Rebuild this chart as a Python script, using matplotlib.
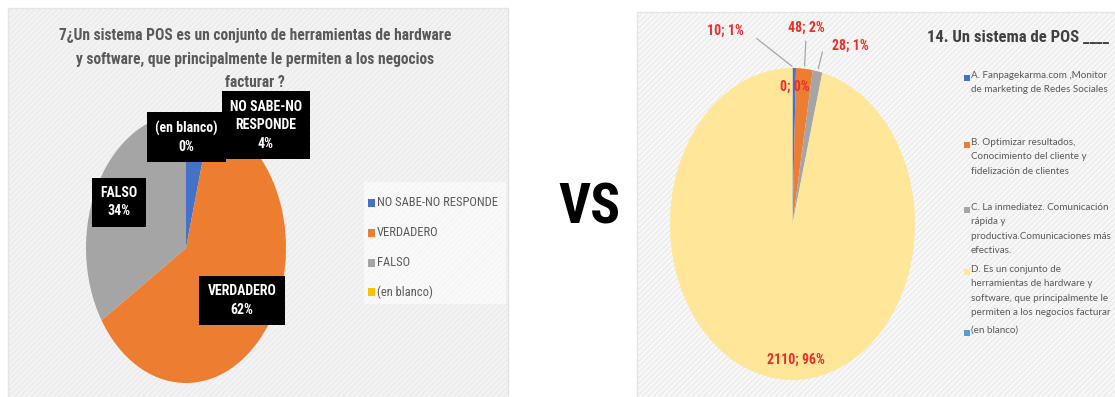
import numpy as np
import matplotlib.pyplot as plt
from matplotlib import font_manager
from matplotlib.patches import Rectangle

W, H = 1115, 397


def pick_font(*names):
    have = {f.name for f in font_manager.fontManager.ttflist}
    for n in names:
        if n in have:
            return n
    return 'DejaVu Sans'


NARROW = pick_font('Liberation Sans Narrow', 'Roboto Condensed', 'Liberation Sans')
BODY = pick_font('Lato', 'Open Sans', 'DejaVu Sans')

# --- pregunta 7 ---
left_title = ('7¿Un sistema POS es un conjunto de herramientas de hardware\n'
              'y software, que principalmente le permiten a los negocios\n'
              'facturar ?')
left_labels = ['NO SABE-NO RESPONDE', 'VERDADERO', 'FALSO', '(en blanco)']
left_pct = [4, 62, 34, 0]
left_box_text = ['NO SABE-NO\nRESPONDE', 'VERDADERO', 'FALSO', '(en blanco)']
left_colors = ['#4472C4', '#ED7D31', '#A5A5A5', '#FFC000']

# --- pregunta 14 ---
right_title = '14. Un sistema de POS ____'
right_labels = ['A. Fanpagekarma.com ,Monitor\nde marketing de Redes Sociales',
                'B. Optimizar resultados,\nConocimiento del cliente y\nfidelización de clientes',
                'C. La inmediatez. Comunicación\nrápida y\nproductiva.Comunicaciones más\nefectivas.',
                'D. Es un conjunto de\nherramientas de hardware y\nsoftware, que principalmente le\npermiten a los negocios facturar',
                '(en blanco)']
right_counts = [10, 48, 28, 2110, 0]
right_pct = [1, 2, 1, 96, 0]
right_colors = ['#4472C4', '#ED7D31', '#A5A5A5', '#FFE699', '#5B9BD5']


def px_axes(fig, x0, y0, w, h):
    return fig.add_axes([x0 / W, 1 - (y0 + h) / H, w / W, h / H])


fig = plt.figure(figsize=(W / 100, H / 100), dpi=100)
fig.patch.set_facecolor('white')

bg = fig.add_axes([0, 0, 1, 1])
bg.set_xlim(0, W)
bg.set_ylim(H, 0)
bg.axis('off')

# chart areas with the fine diagonal texture
for x0, y0, x1, y1, fc in [(8, 8, 508, 400, '#f3f3f3'), (637, 12, 1120, 400, '#f8f8f8')]:
    bg.add_patch(Rectangle((x0, y0), x1 - x0, y1 - y0, facecolor=fc,
                           edgecolor='#e2e2e2', lw=1.0))
    bg.add_patch(Rectangle((x0, y0), x1 - x0, y1 - y0, facecolor='none',
                           edgecolor='#ebebeb', hatch='//////', lw=0))

bg.text(255, 59, left_title, ha='center', va='center', fontsize=11.2,
        fontweight='bold', color='#595959', family=NARROW, linespacing=1.7)

bg.text(589, 209, 'VS', ha='center', va='center', fontsize=40,
        fontweight='bold', color='black', family=NARROW)

# left legend
bg.add_patch(Rectangle((364, 182), 142, 122, facecolor='white', alpha=0.55, lw=0))
for y, lab, c in zip([203, 233, 263, 292], left_labels, left_colors):
    bg.add_patch(Rectangle((368, y - 4), 7, 8, facecolor=c, lw=0))
    bg.text(377, y, lab, ha='left', va='center', fontsize=9,
            color='#595959', family=NARROW)

# right title and legend
bg.text(927, 37, right_title, ha='left', va='center', fontsize=12,
        fontweight='bold', color='#404040', family=NARROW)
right_rows = [78, 145, 210, 272, 333]
for y, lab, c in zip(right_rows, right_labels, right_colors):
    bg.add_patch(Rectangle((964, y - 3), 6, 6, facecolor=c, lw=0))
    bg.text(971, y - 7, lab, ha='left', va='top', fontsize=7.1,
            color='#595959', family=BODY, linespacing=1.78)

# left pie, stretched vertically
ax1 = px_axes(fig, 86, 113, 200, 270)
ax1.pie(left_pct, colors=left_colors, startangle=90, counterclock=False,
        wedgeprops=dict(linewidth=0))
ax1.set_aspect('auto')
ax1.set_xlim(-1, 1)
ax1.set_ylim(-1, 1)
ax1.axis('off')

left_pos = [(0.80, 0.91), (0.56, -0.39), (-0.67, 0.34), (0.005, 0.82)]
for (x, y), txt, p in zip(left_pos, left_box_text, left_pct):
    ax1.text(x, y, f'{txt}\n{p}%', ha='center', va='center', fontsize=10,
             fontweight='bold', color='white', family=NARROW, linespacing=1.4,
             clip_on=False,
             bbox=dict(boxstyle='square,pad=0.6', facecolor='black', edgecolor='none'))

# right pie
ax2 = px_axes(fig, 670, 68, 245, 312)
wedges, _ = ax2.pie(right_counts, colors=right_colors, startangle=90,
                    counterclock=False, wedgeprops=dict(linewidth=0))
ax2.set_aspect('auto')
ax2.set_xlim(-1, 1)
ax2.set_ylim(-1, 1)
ax2.axis('off')

right_pos = [(-0.55, 1.24), (0.11, 1.26), (0.47, 1.14), (0.03, -0.87), (0.02, 0.88)]
for i, (w, (x, y)) in enumerate(zip(wedges, right_pos)):
    txt = f'{right_counts[i]}; {right_pct[i]}%'
    ax2.text(x, y, txt, ha='center', va='center', fontsize=10,
             fontweight='bold', color='#E8302A', family=NARROW, clip_on=False)
    if i < 3:
        ang = np.deg2rad((w.theta1 + w.theta2) / 2)
        tip = (np.cos(ang), np.sin(ang))
        start = {0: (x + 0.24, y - 0.04), 1: (x, y - 0.07), 2: (x - 0.22, y - 0.02)}[i]
        ax2.annotate('', xy=tip, xytext=start,
                     arrowprops=dict(arrowstyle='-', color='#a6a6a6', lw=0.9),
                     annotation_clip=False)

fig.savefig('out.png', dpi=100)
